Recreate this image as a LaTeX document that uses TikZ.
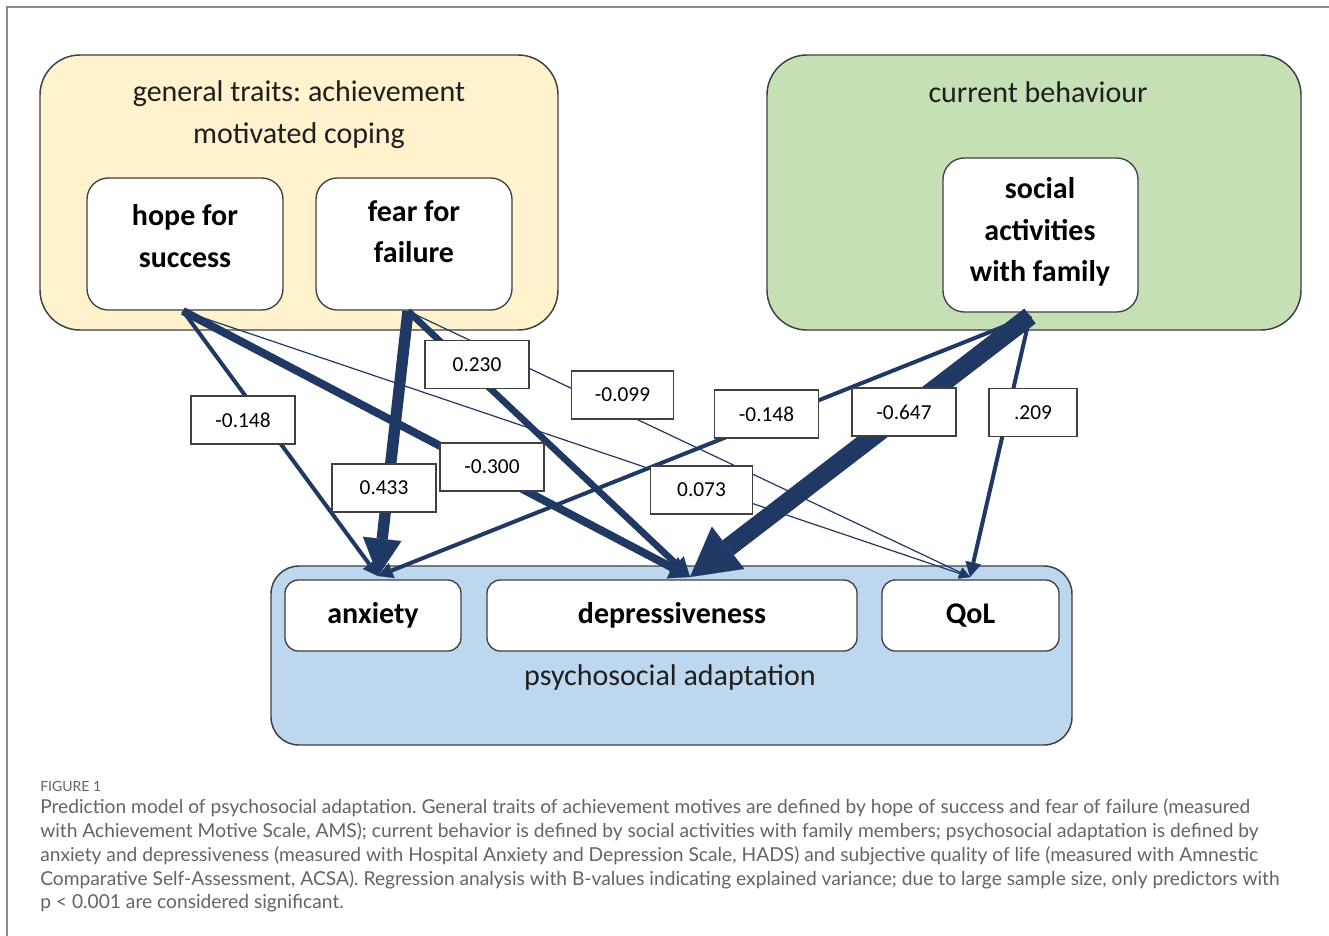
\documentclass[tikz,border=0pt]{standalone}
\usepackage{fontspec}
\setmainfont{Carlito}
\newfontfamily\capfont{Lato}
\usetikzlibrary{arrows.meta}
\definecolor{navy}{RGB}{31,56,100}
\definecolor{ylw}{RGB}{255,242,204}
\definecolor{grn}{RGB}{197,224,180}
\definecolor{blu}{RGB}{189,215,238}
\definecolor{edgegray}{RGB}{64,64,64}
\definecolor{captxt}{RGB}{100,100,100}
\definecolor{framegray}{RGB}{140,140,140}
\frenchspacing
\begin{document}
\begin{tikzpicture}[x=0.75pt,y=-0.75pt,
  group/.style={draw=edgegray,line width=1.1pt,rounded corners=30pt,inner sep=0pt},
  innerbox/.style={draw=edgegray,line width=1pt,fill=white,rounded corners=16pt,inner sep=0pt},
  titletxt/.style={font=\fontsize{22.5}{31.5}\selectfont,text=black!88,align=center},
  boxtxt/.style={font=\fontsize{22.5}{31}\selectfont\bfseries,align=center},
  lab/.style={draw=edgegray,line width=0.8pt,fill=white,minimum width=78pt,minimum height=36pt,inner sep=0pt,font=\fontsize{16}{18}\selectfont},
  link/.style={draw=navy,line cap=butt,line join=miter},
  thinlink/.style={link,line width=0.9pt,-{Triangle[length=8pt,width=8pt,line width=0.1pt]}},
  medlink/.style={link,line width=3pt,-{Triangle[length=11pt,width=12pt,line width=0.1pt]}},
  linkb/.style={link,line width=5pt,-{Triangle[length=14pt,width=16pt,line width=0.1pt]}},
  linkc/.style={link,line width=6pt,-{Triangle[length=15pt,width=18pt,line width=0.1pt]}},
  linkd/.style={link,line width=8.5pt,-{Triangle[length=28pt,width=29pt,line width=0.1pt]}},
  linke/.style={link,line width=14pt,-{Triangle[length=36pt,width=40pt,line width=0.1pt]}},
  captxtst/.style={anchor=west,inner sep=0pt,text=captxt,font=\capfont\fontsize{14.4}{16}\selectfont}
]
\useasboundingbox (0,0) rectangle (1329,936);
\fill[white] (0,0) rectangle (1329,936);
\draw[framegray,line width=1.1pt] (7,936) -- (7,7) -- (1329,7);

% groups
\node[group,fill=ylw,minimum width=388.5pt,minimum height=206.25pt] (gen) at (299,192.5) {};
\node[titletxt] (gentitle) at (299,115) {general traits: achievement\\motivated coping};
\node[innerbox,minimum width=147pt,minimum height=99pt] (hope) at (185,244) {};
\node[boxtxt] (hopet) at (185,236) {hope for\\success};
\node[innerbox,minimum width=147pt,minimum height=99pt] (fear) at (414,244) {};
\node[boxtxt] (feart) at (414,232) {fear for\\failure};

\node[group,fill=grn,minimum width=400.5pt,minimum height=206.25pt] (cur) at (1034,192.5) {};
\node[titletxt] (curtitle) at (1038,92) {current behaviour};
\node[innerbox,minimum width=146.25pt,minimum height=115.5pt] (soc) at (1040.5,235) {};
\node[boxtxt] (soct) at (1040,232) {social\\activities\\with family};

\node[group,fill=blu,rounded corners=21pt,minimum width=600.75pt,minimum height=134.25pt] (psy) at (671.5,655.5) {};
\node[innerbox,boxtxt,rounded corners=10pt,minimum width=132pt,minimum height=53.25pt] (anx) at (373,615.5) {anxiety};
\node[innerbox,boxtxt,rounded corners=10pt,minimum width=277.5pt,minimum height=53.25pt] (dep) at (672,615.5) {depressiveness};
\node[innerbox,boxtxt,rounded corners=10pt,minimum width=132.75pt,minimum height=53.25pt] (qol) at (970.5,615.5) {QoL};
\node[titletxt] (psyt) at (670,677) {psychosocial adaptation};

% connector ends
\coordinate (hs) at (183,311);
\coordinate (fs) at (408,311);
\coordinate (ss) at (1030,316);
\coordinate (at) at (378,576);
\coordinate (dt) at (690,577);
\coordinate (qt) at (970,577);

% connectors
\draw[thinlink] (hs) -- (qt);
\draw[thinlink] (fs) -- (qt);
\draw[medlink] (hs) -- (at);
\draw[medlink] (ss) -- (at);
\draw[medlink] (ss) -- (qt);
\draw[linkb] (fs) -- (dt);
\draw[linkc] (hs) -- (dt);
\draw[linkd] (fs) -- (at);
\draw[linke] (ss) -- (dt);

% labels
\node[lab] (l1) at (243,420) {-0.148};
\node[lab] (l2) at (384,488) {0.433};
\node[lab] (l3) at (492,467) {-0.300};
\node[lab] (l4) at (477,364.5) {0.230};
\node[lab,minimum width=76pt] (l5) at (622.5,395) {-0.099};
\node[lab,minimum width=76pt] (l6) at (701.5,490) {0.073};
\node[lab] (l7) at (766.5,414) {-0.148};
\node[lab] (l8) at (904,412) {-0.647};
\node[lab,minimum width=66pt] (l9) at (1033,412.5) {.209};

% caption
\node[captxtst,font=\capfont\fontsize{10.5}{12}\selectfont] (fig) at (40,786) {FIGURE 1};
\node[captxtst] (c1) at (40,808) {Prediction model of psychosocial adaptation. General traits of achievement motives are defined by hope of success and fear of failure (measured};
\node[captxtst] (c2) at (40,832) {with Achievement Motive Scale, AMS); current behavior is defined by social activities with family members; psychosocial adaptation is defined by};
\node[captxtst] (c3) at (40,856) {anxiety and depressiveness (measured with Hospital Anxiety and Depression Scale, HADS) and subjective quality of life (measured with Amnestic};
\node[captxtst] (c4) at (40,880) {Comparative Self-Assessment, ACSA). Regression analysis with B-values indicating explained variance; due to large sample size, only predictors with};
\node[captxtst] (c5) at (40,903) {p < 0.001 are considered significant.};
\end{tikzpicture}
\end{document}
